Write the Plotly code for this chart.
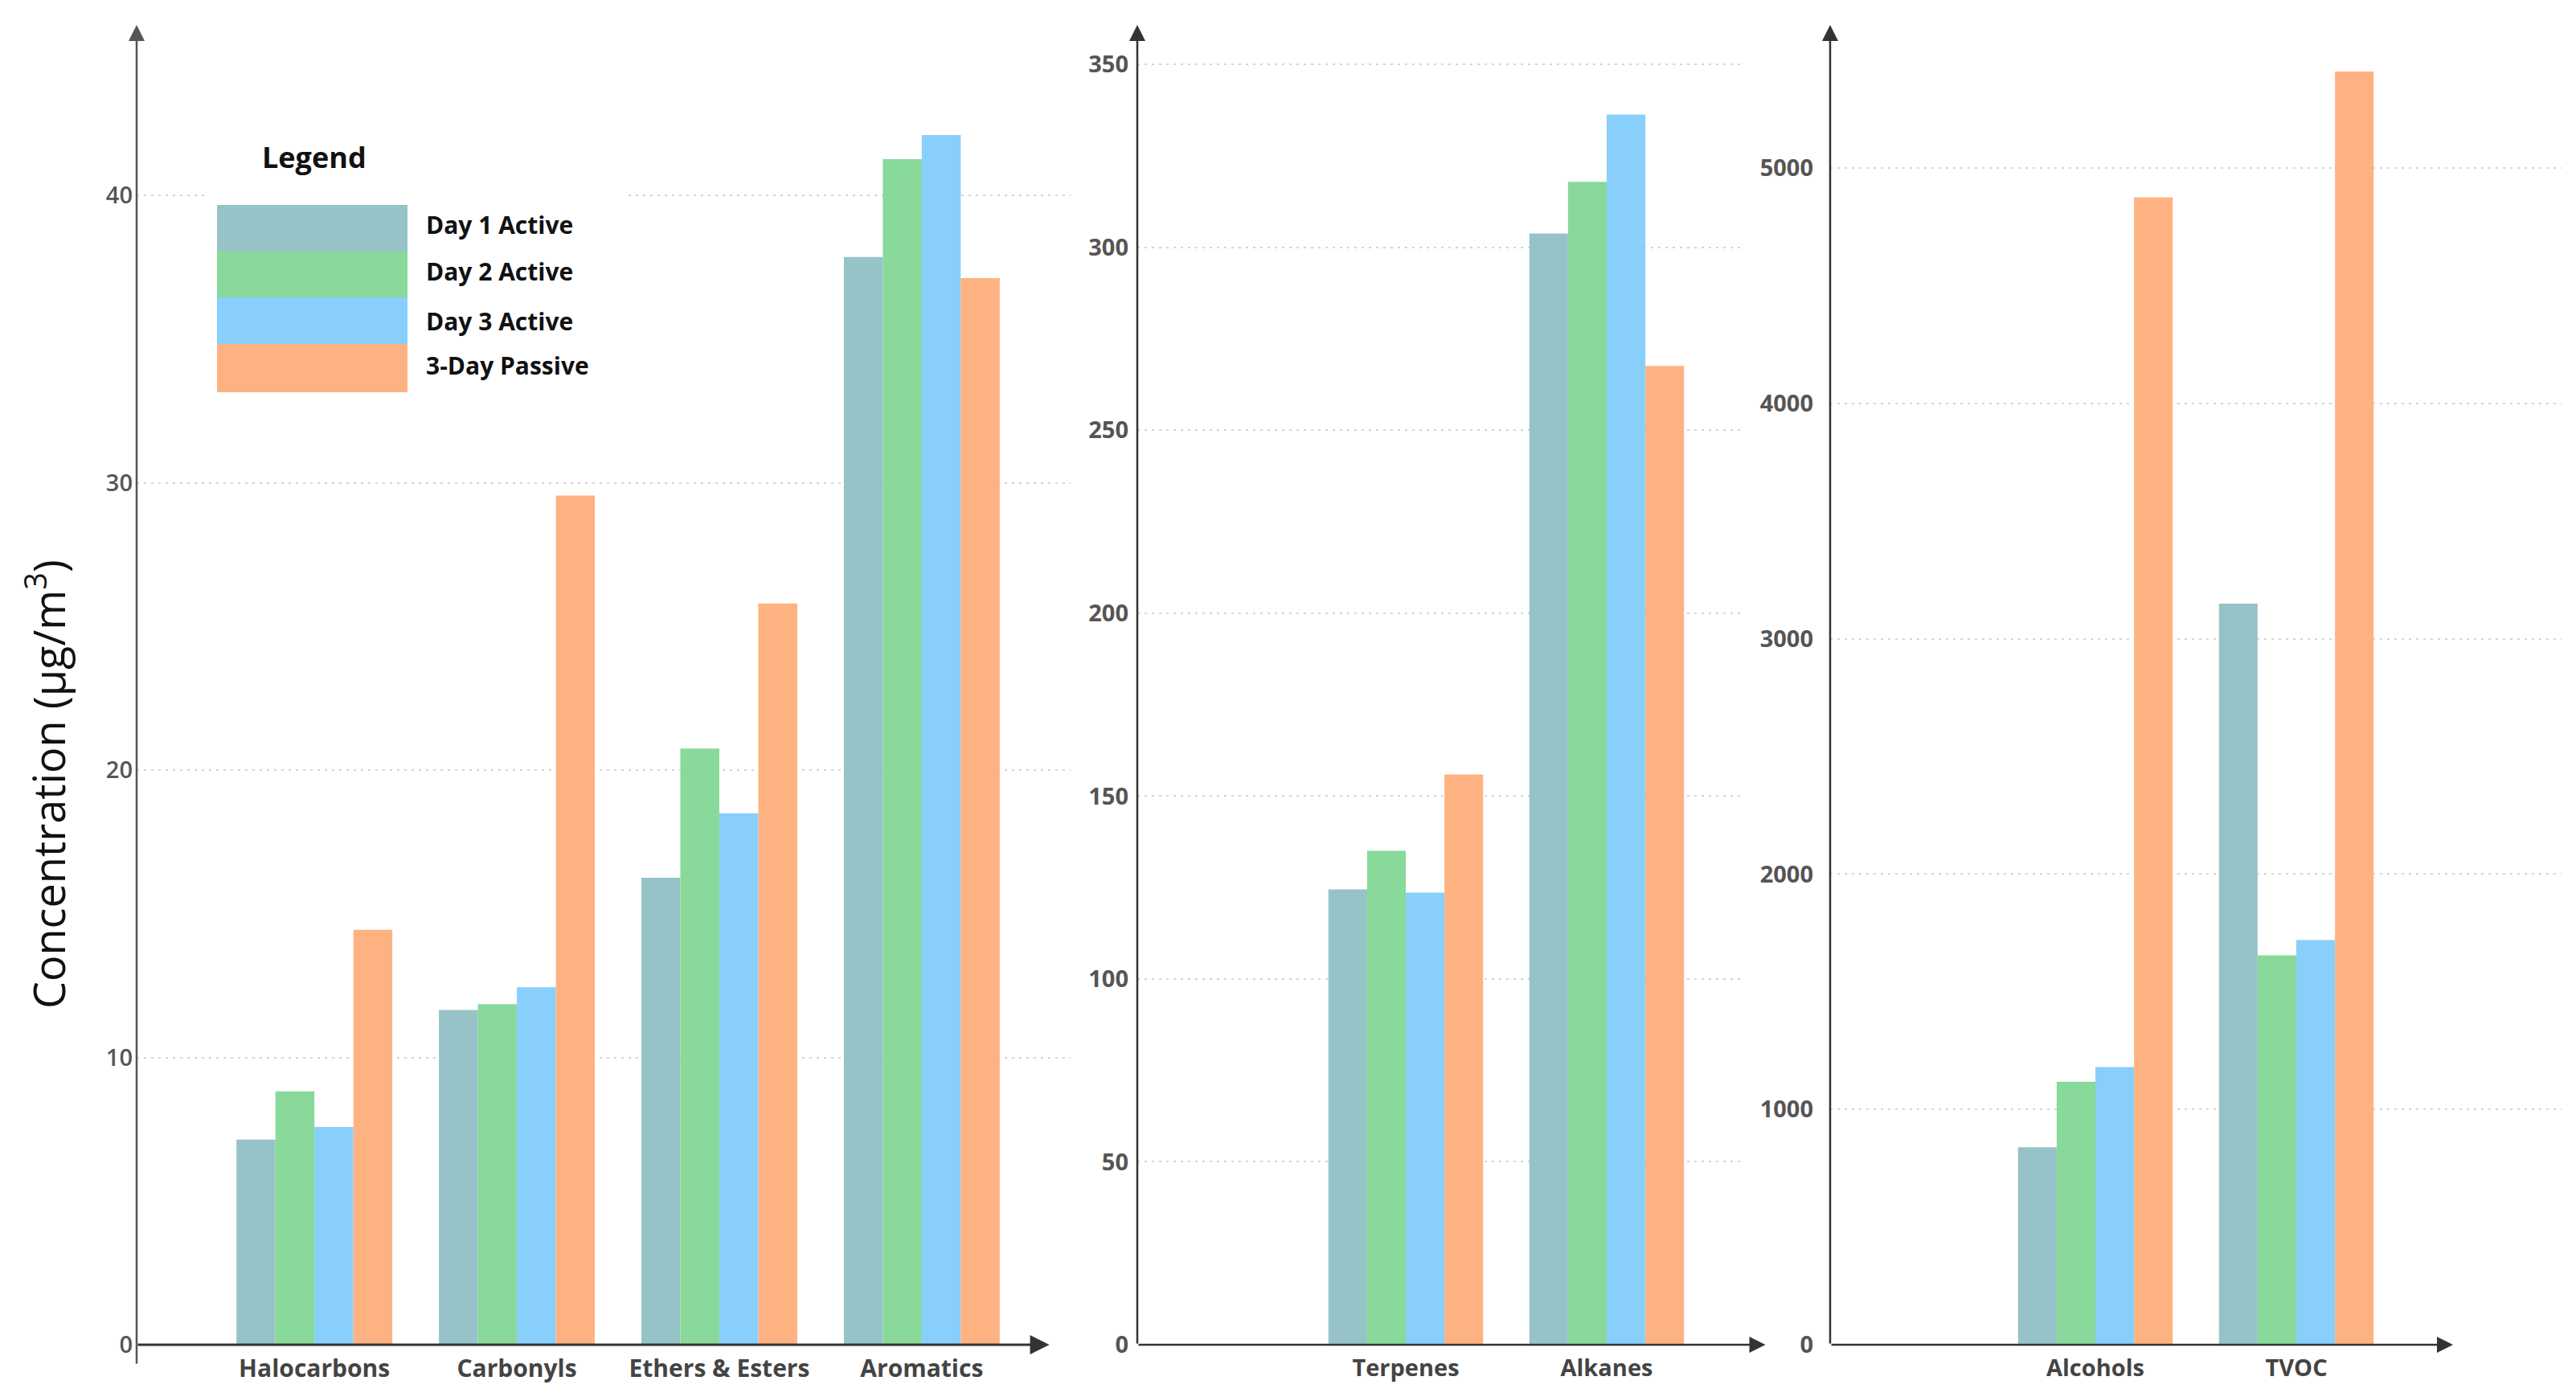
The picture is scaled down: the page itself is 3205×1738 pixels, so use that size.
import plotly.graph_objects as go

W, H = 3205, 1738

series_names = ["Day 1 Active", "Day 2 Active", "Day 3 Active", "3-Day Passive"]
series_colors = ["#96C3C8", "#88D99A", "#88CFFC", "#FFB281"]

cats1 = ["Halocarbons", "Carbonyls", "Ethers & Esters", "Aromatics"]
day1_p1 = [7.14, 11.65, 16.25, 37.85]
day2_p1 = [8.82, 11.85, 20.75, 41.26]
day3_p1 = [7.58, 12.44, 18.50, 42.10]
pass_p1 = [14.44, 29.55, 25.80, 37.12]

cats2 = ["Terpenes", "Alkanes"]
day1_p2 = [124.5, 303.8]
day2_p2 = [135.0, 317.9]
day3_p2 = [123.6, 336.3]
pass_p2 = [155.9, 267.6]

cats3 = ["Alcohols", "TVOC"]
day1_p3 = [839, 3149]
day2_p3 = [1118, 1655]
day3_p3 = [1180, 1720]
pass_p3 = [4875, 5410]

ticks1 = [0, 10, 20, 30, 40]
ticks2 = [0, 50, 100, 150, 200, 250, 300, 350]
ticks3 = [0, 1000, 2000, 3000, 4000, 5000]

panels = [
    (cats1, [day1_p1, day2_p1, day3_p1, pass_p1], "x", "y"),
    (cats2, [day1_p2, day2_p2, day3_p2, pass_p2], "x2", "y2"),
    (cats3, [day1_p3, day2_p3, day3_p3, pass_p3], "x3", "y3"),
]

OFF = 8  # page body margin compensation

def px(v):
    return (v - OFF) / W

def py(v):
    return 1 - (v - OFF) / H

fig = go.Figure()
for pi, (cats, vals, xa, ya) in enumerate(panels):
    for si, name in enumerate(series_names):
        fig.add_trace(go.Bar(
            x=cats, y=vals[si], name=name, xaxis=xa, yaxis=ya,
            marker=dict(color=series_colors[si], line=dict(width=0)),
            showlegend=False,
        ))

font_a = "Open Sans, Noto Sans, sans-serif"

y_bottom = 1673
y_top = 31
dom_y = [py(y_bottom), py(y_top)]

grid = dict(showgrid=True, gridcolor="#d4d4d4", gridwidth=2, griddash="3px,6px",
            zeroline=False, showline=False, ticks="")

r1 = [-0.878, 3.735]
r2 = [-1.336, 1.676]
r3 = [-1.32, 2.32]
yr1 = [0, (y_bottom - y_top) / 35.75]
yr2 = [0, (y_bottom - y_top) / 4.551]
yr3 = [0, (y_bottom - y_top) / 0.2928]

xcommon = dict(showgrid=False, zeroline=False, showline=False, ticks="",
               automargin=False, ticklabelstandoff=9)

fig.update_layout(
    width=W, height=H,
    margin=dict(l=0, r=0, t=0, b=0),
    paper_bgcolor="white", plot_bgcolor="rgba(0,0,0,0)",
    barmode="group", bargap=0.23, bargroupgap=0,
    showlegend=False,
    xaxis=dict(domain=[px(170), px(1332)], range=r1, anchor="y",
               tickfont=dict(family=font_a, size=30, color="#444444", weight="bold"), **xcommon),
    yaxis=dict(domain=dom_y, range=yr1, anchor="x", tickvals=ticks1, automargin=False,
               ticklabelstandoff=4,
               tickfont=dict(family=font_a, size=29, color="#555555", weight=600), **grid),
    xaxis2=dict(domain=[px(1415), px(2168)], range=r2, anchor="y2",
                tickfont=dict(family=font_a, size=29, color="#444444", weight="bold"), **xcommon),
    yaxis2=dict(domain=dom_y, range=yr2, anchor="x2", tickvals=ticks2, automargin=False,
                ticklabelstandoff=10,
                tickfont=dict(family=font_a, size=29, color="#555555", weight="bold"), **grid),
    xaxis3=dict(domain=[px(2277), px(3187)], range=r3, anchor="y3",
                tickfont=dict(family=font_a, size=29, color="#444444", weight="bold"), **xcommon),
    yaxis3=dict(domain=dom_y, range=yr3, anchor="x3", tickvals=ticks3, automargin=False,
                ticklabelstandoff=20,
                tickfont=dict(family=font_a, size=29, color="#555555", weight="bold"), **grid),
)

annotations = []

def arrow(xref, yref, x, y, ax, ay, color, width):
    annotations.append(dict(
        xref=xref, yref=yref, axref=xref, ayref=yref,
        x=x, y=y, ax=ax, ay=ay, text="", showarrow=True,
        arrowhead=2, arrowsize=1.6, arrowwidth=width, arrowcolor=color,
    ))

arrow("x", "y", r1[0], yr1[1], r1[0], -0.7, "#555555", 2.5)
arrow("x", "y", 3.63, 0, r1[0], 0, "#333333", 3)
arrow("x2", "y2", r2[0], yr2[1], r2[0], 0, "#333333", 2.5)
arrow("x2", "y2", 1.79, 0, r2[0], 0, "#333333", 2.5)
arrow("x3", "y3", r3[0], yr3[1], r3[0], 0, "#333333", 2.5)
arrow("x3", "y3", 1.78, 0, r3[0], 0, "#333333", 2.5)

annotations.append(dict(
    xref="paper", yref="paper", x=px(57), y=py(976), xanchor="center", yanchor="middle",
    text="Concentration (μg/m<sup>3</sup>)", textangle=-90, showarrow=False,
    font=dict(family=font_a, size=54, color="#111111"),
))

shapes = [dict(type="rect", xref="paper", yref="paper", x0=px(258), x1=px(782),
               y0=py(500), y1=py(165), fillcolor="white", line=dict(width=0), layer="above")]
rows = [(255, 313), (313, 370), (370, 428), (428, 488)]
label_y = [279, 337, 399, 455]
for i, name in enumerate(series_names):
    t, b = rows[i]
    shapes.append(dict(type="rect", xref="paper", yref="paper", x0=px(270), x1=px(507),
                       y0=py(b), y1=py(t), fillcolor=series_colors[i],
                       line=dict(width=0), layer="above"))
    annotations.append(dict(
        xref="paper", yref="paper", x=px(528), y=py(label_y[i]), xanchor="left",
        yanchor="middle", text=name, showarrow=False,
        font=dict(family=font_a, size=30, color="#111111", weight="bold"),
    ))
annotations.append(dict(
    xref="paper", yref="paper", x=px(391), y=py(196), xanchor="center", yanchor="middle",
    text="Legend", showarrow=False,
    font=dict(family=font_a, size=36, color="#111111", weight="bold"),
))

fig.update_layout(annotations=annotations, shapes=shapes)
fig.write_html("out.html")
